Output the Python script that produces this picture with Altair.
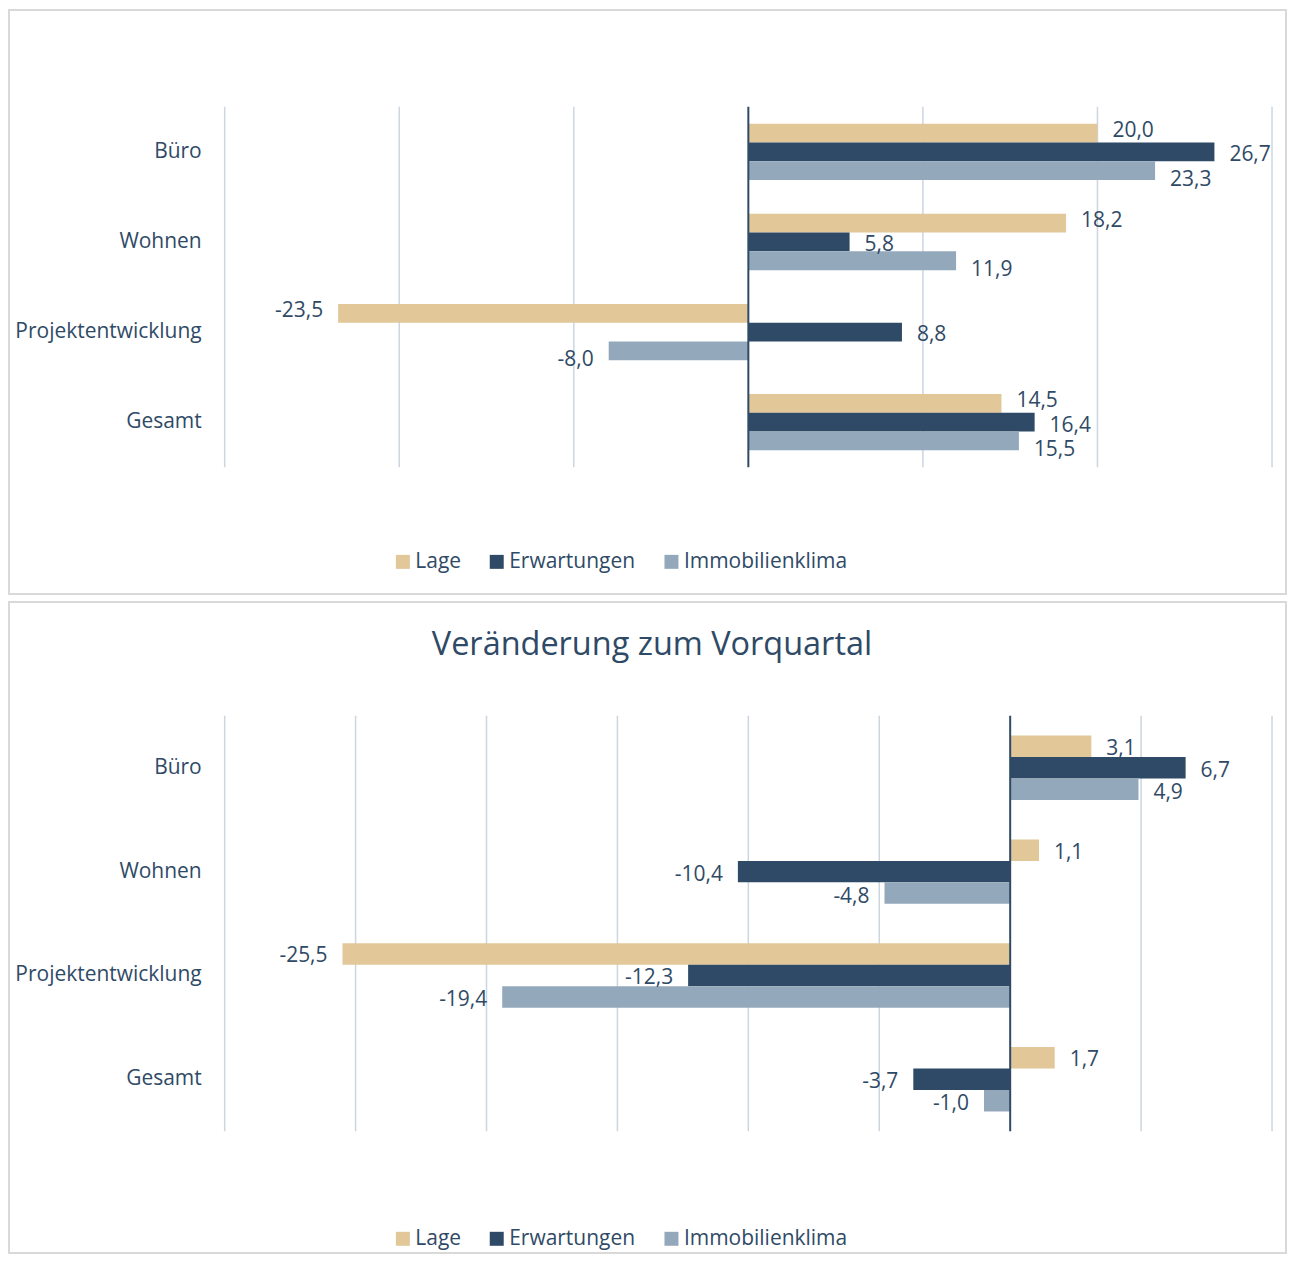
import altair as alt
import pandas as pd

categories = ["Büro", "Wohnen", "Projektentwicklung", "Gesamt"]
series = ["Lage", "Erwartungen", "Immobilienklima"]
colors = ["#E2C799", "#2F4A66", "#94A8BC"]

top_lage = [20.0, 18.2, -23.5, 14.5]
top_erw = [26.7, 5.8, 8.8, 16.4]
top_immo = [23.3, 11.9, -8.0, 15.5]

bot_lage = [3.1, 1.1, -25.5, 1.7]
bot_erw = [6.7, -10.4, -12.3, -3.7]
bot_immo = [4.9, -4.8, -19.4, -1.0]

top_ticks = [-30, -20, -10, 0, 10, 20, 30]
bot_ticks = [-30, -25, -20, -15, -10, -5, 0, 5, 10]
bottom_title = "Veränderung zum Vorquartal"

FONT = "Open Sans"
TEXT = "#2F4A66"
GRID = "#CCD6E0"
FS = 21


def make_df(lage, erw, immo):
    rows = []
    for s, vals in zip(series, [lage, erw, immo]):
        for c, v in zip(categories, vals):
            rows.append({"cat": c, "s": s, "v": v,
                         "lbl": f"{v:.1f}".replace(".", ",")})
    return pd.DataFrame(rows)


def panel(df, ticks, domain, band_range, height, legend_y, yoff_pad, lbl_range, title=None):
    x_scale = alt.Scale(domain=domain, range=[216, 1265], nice=False, zero=False)
    y_scale = alt.Scale(domain=categories, range=band_range, paddingInner=0, paddingOuter=0)
    yo_scale = alt.Scale(domain=series, paddingInner=0, paddingOuter=yoff_pad)
    yl_scale = alt.Scale(type="point", domain=series, range=lbl_range, padding=0)

    tick_df = pd.DataFrame({"t": ticks})
    grid = alt.Chart(tick_df).transform_filter("datum.t != 0").mark_rule(
        color=GRID, strokeWidth=1.5).encode(
        x=alt.X("t:Q", scale=x_scale, axis=None),
        y=alt.value(band_range[0]), y2=alt.value(band_range[1]))
    zero = alt.Chart(tick_df).transform_filter("datum.t == 0").mark_rule(
        color=TEXT, strokeWidth=2).encode(
        x=alt.X("t:Q", scale=x_scale, axis=None),
        y=alt.value(band_range[0]), y2=alt.value(band_range[1]))

    bars = alt.Chart(df).mark_bar().encode(
        y=alt.Y("cat:N", scale=y_scale, axis=None),
        yOffset=alt.YOffset("s:N", scale=yo_scale),
        x=alt.X("v:Q", scale=x_scale, axis=None),
        x2=alt.datum(0),
        color=alt.Color("s:N", scale=alt.Scale(domain=series, range=colors),
                        legend=alt.Legend(orient="none", legendX=384, legendY=legend_y,
                                          direction="horizontal", title=None,
                                          symbolType="square", symbolSize=196,
                                          symbolStrokeWidth=0, labelFontSize=FS,
                                          labelColor=TEXT, labelFont=FONT, labelLimit=0,
                                          columnPadding=25, padding=0, labelOffset=2)),
    )
    bar_layer = alt.layer(grid, bars, zero)

    lbase = alt.Chart(df).encode(
        y=alt.Y("cat:N", scale=y_scale, axis=None),
        yOffset=alt.YOffset("s:N", scale=yl_scale),
        x=alt.X("v:Q", scale=x_scale, axis=None),
        text="lbl:N",
    )
    pos = lbase.transform_filter("datum.v >= 0").mark_text(
        align="left", dx=15, fontSize=FS, font=FONT, color=TEXT)
    neg = lbase.transform_filter("datum.v < 0").mark_text(
        align="right", dx=-15, fontSize=FS, font=FONT, color=TEXT)
    lbl_layer = alt.layer(pos, neg)

    cats = alt.Chart(pd.DataFrame({"cat": categories})).mark_text(
        align="right", fontSize=FS, font=FONT, color=TEXT).encode(
        y=alt.Y("cat:N", scale=y_scale, axis=None), text="cat:N", x=alt.value(193))

    layers = [bar_layer, lbl_layer, cats]
    if title:
        t = alt.Chart(pd.DataFrame({"t": [title]})).mark_text(
            fontSize=32.5, font=FONT, color=TEXT, align="center", baseline="middle").encode(
            text="t:N", x=alt.value(644), y=alt.value(43))
        layers.append(t)
    return alt.layer(*layers).resolve_scale(yOffset="independent").properties(
        width=1279, height=height)


top = panel(make_df(top_lage, top_erw, top_immo), top_ticks, [-30, 30],
            [97, 458], 585, 542, 0.9, [24, 73])
bottom = panel(make_df(bot_lage, bot_erw, bot_immo), bot_ticks, [-30, 10],
               [114, 530], 652, 627, 0.92, [33, 77], title=bottom_title)

chart = alt.vconcat(top, bottom, spacing=6).resolve_scale(
    x="independent", y="independent", color="independent", yOffset="independent"
).resolve_legend(color="independent").properties(padding=0).configure_view(
    stroke="#D9D9D9", strokeWidth=2)

chart.save("out.html", embed_options={"renderer": "svg", "actions": False})
